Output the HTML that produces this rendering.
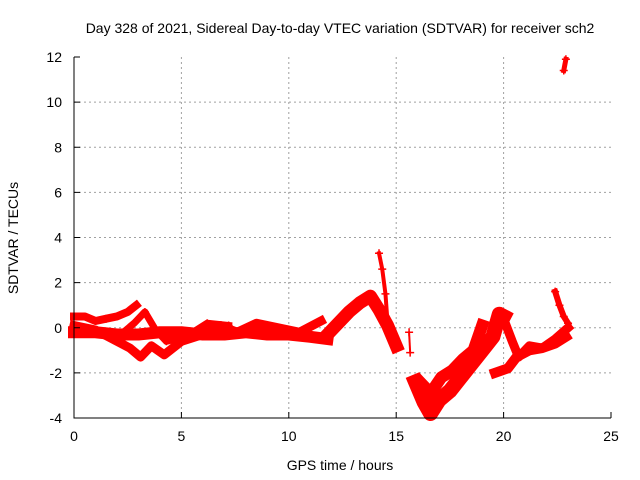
<!DOCTYPE html>
<html><head><meta charset="utf-8"><style>
body{margin:0;background:#fff;}
svg{display:block;font-family:"Liberation Sans",sans-serif;}
</style></head><body>
<svg id="chart" width="640" height="480">
<text x="340" y="33" font-size="14" text-anchor="middle">Day 328 of 2021, Sidereal Day-to-day VTEC variation (SDTVAR) for receiver sch2</text>
<text x="340" y="470" font-size="14" text-anchor="middle">GPS time / hours</text>
<text x="18" y="238" font-size="14" text-anchor="middle" transform="rotate(-90 18 238)">SDTVAR / TECUs</text>
<g id="grid"></g><g id="marks"></g><g id="axes"></g>
</svg>
<script>
const xTicks=[0,5,10,15,20,25];
const yTicks=[-4,-2,0,2,4,6,8,10,12];
// tracks: hours and SDTVAR values
const t1x=[0,0.5,1,1.5,2,2.5,2.9];
const t1y=[0.5,0.5,0.3,0.4,0.5,0.7,1.0];
const t2x=[0,1,2,3,4,5,6,7,8,9,10,11,11.8];
const t2y=[-0.2,-0.2,-0.3,-0.3,-0.2,-0.2,-0.3,-0.3,-0.2,-0.3,-0.3,-0.4,-0.5];
const t3x=[0,1,2,2.6,3.1,3.6,4.2,5,6,6.8,7.6,8.5,9.5,10.5,11.5];
const t3y=[0.1,-0.1,-0.6,-0.9,-1.3,-0.8,-1.2,-0.6,-0.3,0.1,-0.2,0.2,0,-0.2,0.3];
const t4x=[2.3,2.8,3.3,3.8,4.3,5.2,6.2,7.2];
const t4y=[-0.2,0.2,0.7,-0.1,-0.6,-0.4,0.2,0.1];
const t5x=[11.8,12.3,12.8,13.3,13.8,14.2,14.6,15.0];
const t5y=[-0.3,0.2,0.7,1.1,1.4,0.8,0.1,-0.8];
const t6x=[14.2,14.35,14.5,14.6];
const t6y=[3.3,2.6,1.5,0.2];
const t7x=[15.9,16.3,16.6,17.0,17.5,18.0,18.5,19.0,19.5,19.8,20.0];
const t7y=[-2.4,-3.3,-3.8,-3.2,-2.8,-2.2,-1.6,-1.0,-0.4,0.6,0.5];
const t8x=[19.6,20.2,20.6,21.2,21.8,22.4,22.9];
const t8y=[-2.0,-1.8,-1.3,-1.0,-0.9,-0.7,-0.4];
const t9x=[20.0,20.4,20.7,21.2,21.8,22.4,23.0];
const t9y=[0.4,-0.6,-1.3,-0.8,-0.9,-0.5,0.0];
const t10x=[22.4,22.6,22.8,23.0];
const t10y=[1.6,1.0,0.5,0.2];
const t11x=[22.8,22.9];
const t11y=[11.4,11.9];
const t12x=[16.1,16.6,17.1,17.6,18.1,18.6,19.0];
const t12y=[-2.4,-2.9,-2.2,-1.9,-1.4,-1.0,0.1];
const t13x=[15.6,15.65];
const t13y=[-0.2,-1.1];
const tracks=[[t1x,t1y,8],[t2x,t2y,12],[t3x,t3y,9],[t4x,t4y,7],[t5x,t5y,13],[t6x,t6y,4],[t7x,t7y,15],[t8x,t8y,10],[t9x,t9y,9],[t10x,t10y,6],[t11x,t11y,5],[t12x,t12y,12],[t13x,t13y,2]];
const L=74,R=611,T=57,B=418;
const sx=h=>L+h*(R-L)/25;
const sy=v=>B-(v+4)*(B-T)/16;
const NS='http://www.w3.org/2000/svg';
function mk(t,a,p){const e=document.createElementNS(NS,t);for(const k in a)e.setAttribute(k,a[k]);p.appendChild(e);return e;}
const grid=document.getElementById('grid'),axes=document.getElementById('axes'),marks=document.getElementById('marks');
xTicks.forEach(t=>{
 if(t>0&&t<25){const g=mk('line',{x1:sx(t),x2:sx(t),y1:T,y2:B,stroke:'#a0a0a0','stroke-dasharray':'2,3'},grid);
 
 }
 const tk=mk('line',{x1:sx(t),x2:sx(t),y1:B,y2:B-6,stroke:'#000'},axes);
 
 
 const lb=mk('text',{x:sx(t),y:B+23,'font-size':14,'text-anchor':'middle'},axes);lb.textContent=t;
 
 
});
yTicks.forEach(t=>{
 if(t>-4&&t<12){const g=mk('line',{x1:L,x2:R,y1:sy(t),y2:sy(t),stroke:'#a0a0a0','stroke-dasharray':'2,3'},grid);
 
 }
 const tk=mk('line',{x1:L,x2:L+6,y1:sy(t),y2:sy(t),stroke:'#000'},axes);
 
 
 const lb=mk('text',{x:L-12,y:sy(t)+5,'font-size':14,'text-anchor':'end'},axes);lb.textContent=t;
 
 
});
const frame=mk('path',{d:`M${L},${T}V${B}H${R}`,stroke:'#000',fill:'none'},axes);


tracks.forEach(([xs,ys,w],i)=>{
 const pts=xs.map((h,j)=>sx(h)+','+sy(ys[j])).join(' ');
 const pl=mk('polyline',{points:pts,fill:'none',stroke:'#ff0000','stroke-width':w,'stroke-linejoin':'round','stroke-linecap':'square'},marks);
 
 
 xs.forEach((h,j)=>{
  const x=sx(h),y=sy(ys[j]);
  const p=mk('path',{d:`M${x-4},${y}H${x+4}M${x},${y-4}V${y+4}`,stroke:'#ff0000','stroke-width':1.5},marks);
  
  
 });
});
</script>
</body></html>
